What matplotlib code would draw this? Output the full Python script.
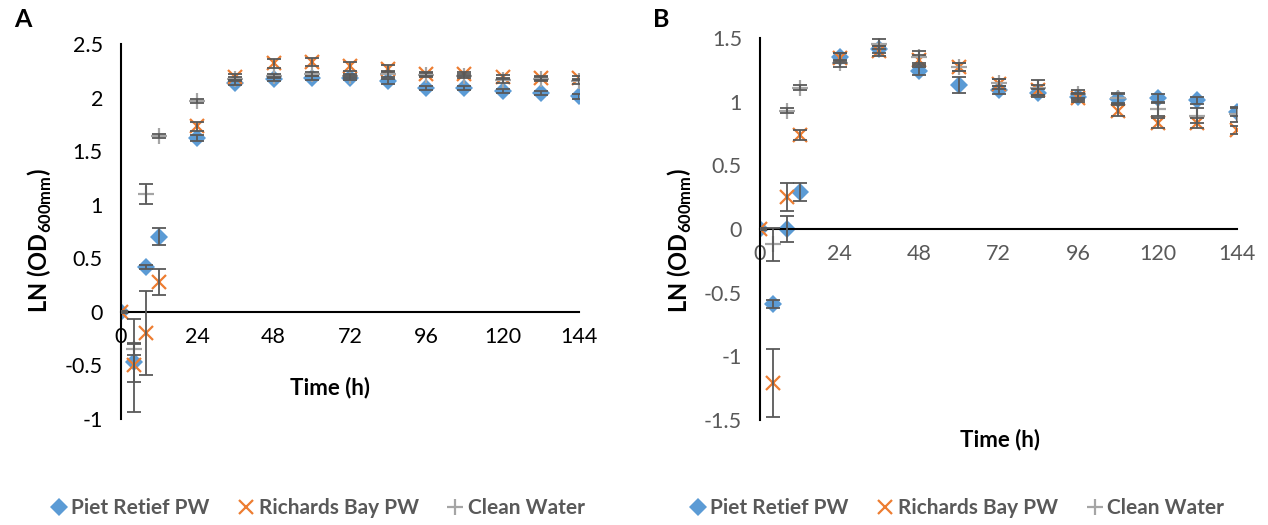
import matplotlib
matplotlib.use("Agg")
import matplotlib.pyplot as plt

plt.rcParams["font.family"] = ["Lato", "DejaVu Sans"]
plt.rcParams["mathtext.fontset"] = "custom"
plt.rcParams["mathtext.rm"] = "Lato"
plt.rcParams["mathtext.bf"] = "Lato:bold"

# sampling times (h)
hours = [0, 4, 8, 12, 24, 36, 48, 60, 72, 84, 96, 108, 120, 132, 144]
series_names = ["Piet Retief PW", "Richards Bay PW", "Clean Water"]

# panel A: LN(OD600) means and standard deviations
piet_a = [0, -0.47, 0.42, 0.70, 1.62, 2.14, 2.17, 2.18, 2.18, 2.15, 2.09, 2.09, 2.06, 2.04, 2.01]
piet_a_err = [0.01, 0.18, 0.02, 0.08, 0.03, 0.02, 0.02, 0.02, 0.02, 0.02, 0.02, 0.02, 0.02, 0.02, 0.02]
rich_a = [0, -0.50, -0.20, 0.28, 1.73, 2.19, 2.32, 2.33, 2.29, 2.27, 2.22, 2.22, 2.19, 2.18, 2.18]
rich_a_err = [0.01, 0.43, 0.39, 0.12, 0.04, 0.03, 0.04, 0.04, 0.04, 0.03, 0.02, 0.02, 0.02, 0.02, 0.02]
clean_a = [0, -0.35, 1.10, 1.64, 1.97, 2.17, 2.20, 2.22, 2.20, 2.22, 2.21, 2.20, 2.16, 2.17, 2.15]
clean_a_err = [0.01, 0.05, 0.09, 0.02, 0.02, 0.02, 0.02, 0.02, 0.02, 0.03, 0.02, 0.02, 0.02, 0.02, 0.02]

# panel B
piet_b = [0, -0.59, 0.0, 0.29, 1.35, 1.41, 1.24, 1.13, 1.09, 1.07, 1.04, 1.02, 1.03, 1.01, 0.92]
piet_b_err = [0.01, 0.03, 0.10, 0.07, 0.03, 0.03, 0.03, 0.06, 0.03, 0.03, 0.03, 0.04, 0.03, 0.03, 0.03]
rich_b = [0, -1.21, 0.25, 0.74, 1.34, 1.40, 1.33, 1.27, 1.14, 1.09, 1.03, 0.93, 0.83, 0.83, 0.78]
rich_b_err = [0.01, 0.27, 0.11, 0.04, 0.04, 0.04, 0.04, 0.03, 0.04, 0.04, 0.03, 0.04, 0.04, 0.04, 0.03]
clean_b = [0, -0.12, 0.93, 1.11, 1.30, 1.45, 1.35, 1.27, 1.15, 1.11, 1.06, 1.03, 0.94, 0.89, 0.90]
clean_b_err = [0.01, 0.13, 0.02, 0.02, 0.03, 0.04, 0.05, 0.03, 0.03, 0.06, 0.03, 0.04, 0.05, 0.06, 0.06]

BLUE, ORANGE, GREY, ERR = "#5B9BD5", "#ED7D31", "#A5A5A5", "#595959"
STYLES = [
    dict(marker="D", color=BLUE, ms=9, mew=0),
    dict(marker="x", color=ORANGE, ms=10, mew=1.6),
    dict(marker="+", color=GREY, ms=12, mew=1.6),
]


def draw_panel(ax, data, ylim, yticks, tick_color):
    for (y, err), st in zip(data, STYLES):
        ax.errorbar(hours, y, yerr=err, fmt="none", ecolor=ERR, elinewidth=1.3,
                    capsize=5, capthick=1.3, zorder=3)
        ax.plot(hours, y, linestyle="none", marker=st["marker"], color=st["color"],
                markersize=st["ms"], markeredgewidth=st["mew"], zorder=2)
    ax.set_xlim(0, 144)
    ax.set_ylim(*ylim)
    ax.set_xticks(range(0, 145, 24))
    ax.set_yticks(yticks)
    ax.set_yticklabels([f"{t:g}" for t in yticks])
    for s in ("top", "right"):
        ax.spines[s].set_visible(False)
    ax.spines["bottom"].set_position(("data", 0))
    ax.spines["left"].set_linewidth(1.5)
    ax.spines["bottom"].set_linewidth(1.5)
    ax.tick_params(axis="both", length=0, labelsize=15.5, labelcolor=tick_color)
    ax.tick_params(axis="x", pad=11)
    ax.tick_params(axis="y", pad=13)


fig = plt.figure(figsize=(12.68, 5.25), dpi=100)
ax_a = fig.add_axes([0.0954, 0.2019, 0.3612, 0.7143])
ax_b = fig.add_axes([0.5994, 0.2000, 0.3762, 0.7276])

draw_panel(ax_a, [(piet_a, piet_a_err), (rich_a, rich_a_err), (clean_a, clean_a_err)],
           (-1, 2.5), [-1, -0.5, 0, 0.5, 1, 1.5, 2, 2.5], "black")
draw_panel(ax_b, [(piet_b, piet_b_err), (rich_b, rich_b_err), (clean_b, clean_b_err)],
           (-1.5, 1.5), [-1.5, -1, -0.5, 0, 0.5, 1, 1.5], "#595959")

ylab = r"LN (OD$_\mathbf{600mm}$)"
ax_a.text(-0.177, 0.477, ylab, transform=ax_a.transAxes, rotation=90,
          ha="center", va="center", fontsize=17, fontweight="bold")
ax_b.text(-0.168, 0.47, ylab, transform=ax_b.transAxes, rotation=90,
          ha="center", va="center", fontsize=17, fontweight="bold")
ax_a.text(0.456, 0.085, "Time (h)", transform=ax_a.transAxes,
          ha="center", va="center", fontsize=16, fontweight="bold")
ax_b.text(0.503, -0.052, "Time (h)", transform=ax_b.transAxes,
          ha="center", va="center", fontsize=16, fontweight="bold")

fig.text(0.011, 0.963, "A", fontsize=18, fontweight="bold", ha="left", va="center")
fig.text(0.515, 0.963, "B", fontsize=18, fontweight="bold", ha="left", va="center")

# legends under each panel
for cx in (0.251, 0.755):
    handles = [plt.Line2D([], [], linestyle="none", marker=st["marker"], color=st["color"],
                          markersize=st["ms"], markeredgewidth=st["mew"]) for st in STYLES]
    leg = fig.legend(handles, series_names, loc="center", bbox_to_anchor=(cx, 0.032),
                     ncol=3, frameon=False, handlelength=0.7, handletextpad=0.25,
                     columnspacing=1.4, prop={"size": 15, "weight": "bold"})
    for t in leg.get_texts():
        t.set_color("#595959")

fig.savefig("out.png", dpi=100)
